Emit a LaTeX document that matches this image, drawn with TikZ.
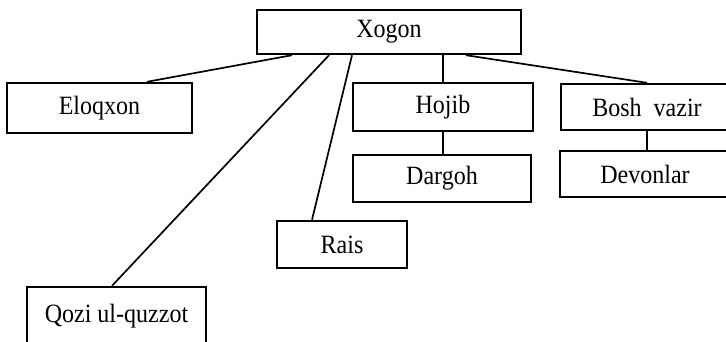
\documentclass[tikz,border=0pt]{standalone}
\usepackage{fontspec}
\setmainfont{Liberation Serif}
\newfontfamily\textefont[FakeStretch=0.91]{Liberation Serif}
\usepackage{tikz}
\usetikzlibrary{positioning}

\tikzset{
	boite/.style={rectangle, draw=black, line width=2.4pt, inner sep=0pt, text centered, font=\textefont\fontsize{26.4}{30}\selectfont},
	lien/.style={line width=1.7pt}
}

\begin{document}
		\begin{tikzpicture}[x=1pt, y=-1pt]
			\clip (0,0) rectangle (726,341);
			\useasboundingbox (0,0) rectangle (726,341);
			
			\node[boite, minimum width=264pt, minimum height=44pt] (xogon) at (389,32) {Xogon};
			\node[boite, minimum width=185pt, minimum height=50pt] (eloqxon) at (99.5,108) {Eloqxon};
			\node[boite, minimum width=180pt, minimum height=48pt] (hojib) at (443,107) {Hojib};
			\node[boite, minimum width=172pt, minimum height=46pt] (vazir) at (647,107) {Bosh\ \ vazir};
			\node[boite, minimum width=178pt, minimum height=47pt] (dargoh) at (442,178.5) {Dargoh};
			\node[boite, minimum width=170pt, minimum height=46pt] (devonlar) at (645,174) {Devonlar};
			\node[boite, minimum width=130pt, minimum height=47pt] (rais) at (342,244.5) {Rais};
			\node[boite, minimum width=179pt, minimum height=58pt] (qozi) at (116.5,316) {Qozi ul-quzzot};
			
			\draw [lien] ([xshift=-97pt]xogon.south) -- ([xshift=47.5pt]eloqxon.north);
			\draw [lien] ([xshift=-60pt]xogon.south) -- ([xshift=-4.5pt]qozi.north);
			\draw [lien] ([xshift=-37pt]xogon.south) -- ([xshift=-30pt]rais.north);
			\draw [lien] (hojib.north |- xogon.south) -- (hojib.north);
			\draw [lien] ([xshift=77pt]xogon.south) -- (vazir.north);
			\draw [lien] (hojib.south) -- (hojib.south |- dargoh.north);
			\draw [lien] (vazir.south) -- (vazir.south |- devonlar.north);
		\end{tikzpicture}
\end{document}
